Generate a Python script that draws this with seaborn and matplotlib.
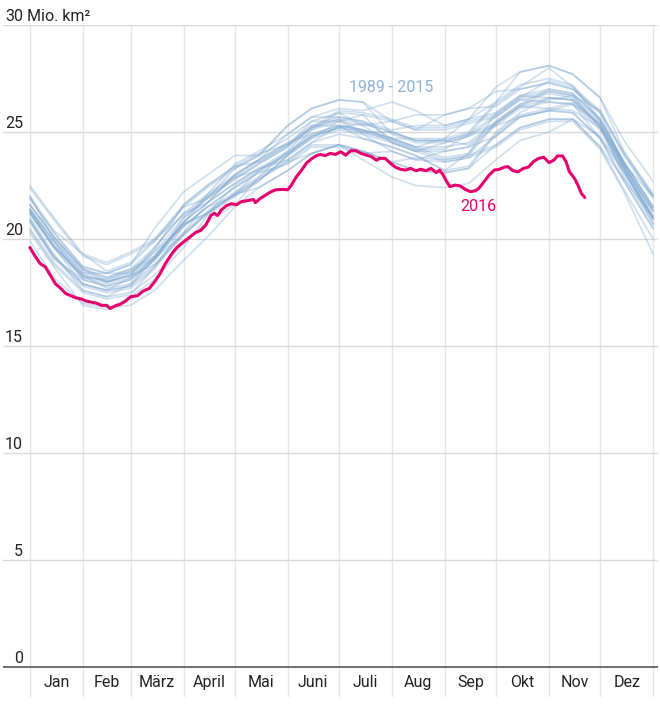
import pandas as pd
import matplotlib
matplotlib.use("Agg")
import matplotlib.pyplot as plt
import seaborn as sns

sns.set_style("white")
plt.rcParams['font.family'] = ['Roboto', 'DejaVu Sans']

# Tage im Jahr: jeweils 1. und 15. des Monats, dazu Jahresende
knot_days = [0, 14, 31, 45, 59, 73, 90, 104, 120, 134, 151, 165, 181, 195,
             212, 226, 243, 257, 273, 287, 304, 318, 334, 348, 365]

years = list(range(1989, 2016))

# Meereis-Ausdehnung (Mio. km²) 1989 - 2015
extent_past = [
    [21.2, 19.6, 18.2, 18.1, 18.5, 19.5, 21.6, 22.5, 23.4, 24.0, 24.4, 25.2, 25.6, 25.0, 24.6, 24.2, 24.2, 24.9, 25.8, 26.6, 27.4, 27.1, 25.5, 23.5, 21.0],
    [21.9, 20.3, 18.7, 18.4, 18.4, 19.4, 21.0, 21.9, 23.3, 23.9, 25.3, 26.1, 26.5, 26.4, 25.5, 25.1, 25.1, 25.4, 25.7, 26.5, 26.8, 26.6, 25.4, 23.4, 21.3],
    [21.0, 19.3, 17.6, 17.3, 17.9, 18.8, 20.3, 21.7, 22.6, 23.3, 24.1, 25.3, 25.7, 25.5, 25.1, 25.3, 25.3, 25.6, 27.1, 27.8, 28.1, 27.7, 26.6, 24.1, 22.1],
    [22.5, 21.0, 19.3, 18.5, 18.9, 20.0, 21.1, 22.0, 22.9, 23.2, 24.0, 24.8, 25.2, 25.0, 24.6, 24.2, 23.7, 23.9, 25.4, 26.2, 26.5, 26.7, 25.5, 23.5, 22.0],
    [21.3, 19.7, 18.3, 18.0, 18.3, 18.8, 20.3, 21.3, 22.2, 22.9, 24.1, 24.9, 25.3, 24.7, 24.3, 23.9, 23.2, 23.4, 25.0, 25.9, 26.6, 26.5, 25.3, 23.3, 21.1],
    [21.4, 19.9, 18.4, 18.4, 18.8, 20.5, 22.2, 23.0, 23.9, 23.9, 24.7, 25.5, 25.5, 25.3, 25.5, 25.1, 25.8, 26.1, 26.9, 27.0, 27.3, 27.0, 25.9, 23.4, 21.3],
    [20.4, 18.8, 17.5, 17.2, 17.4, 18.7, 20.2, 21.2, 22.5, 23.2, 24.0, 24.8, 25.2, 25.0, 25.0, 24.6, 24.6, 24.4, 25.4, 26.2, 26.9, 26.7, 25.2, 23.2, 21.0],
    [21.6, 20.1, 18.6, 18.2, 18.6, 19.2, 20.8, 21.7, 23.0, 23.7, 24.9, 25.7, 26.1, 26.0, 26.4, 26.0, 25.3, 25.6, 25.9, 26.7, 26.6, 26.5, 25.3, 22.9, 20.7],
    [20.8, 19.1, 17.8, 17.5, 17.7, 18.6, 20.6, 21.5, 22.4, 23.1, 23.5, 24.3, 24.3, 24.0, 24.1, 23.7, 24.1, 24.3, 25.3, 25.7, 26.0, 25.9, 24.7, 22.7, 20.5],
    [22.0, 20.4, 19.3, 18.9, 19.4, 20.0, 21.6, 22.5, 23.4, 23.6, 24.4, 25.2, 25.6, 25.4, 25.0, 24.6, 24.6, 24.9, 25.4, 26.2, 26.1, 26.0, 25.2, 23.5, 21.4],
    [21.3, 19.7, 18.3, 18.0, 18.3, 19.6, 21.2, 22.1, 23.5, 24.1, 24.9, 25.7, 25.7, 25.5, 24.7, 24.3, 24.3, 24.5, 25.5, 26.3, 27.0, 26.8, 25.6, 23.6, 21.5],
    [21.4, 19.9, 18.1, 17.8, 18.1, 19.0, 20.6, 21.5, 22.4, 23.1, 23.9, 25.1, 25.5, 25.8, 25.5, 25.8, 25.8, 26.1, 26.2, 27.0, 27.3, 27.0, 25.9, 23.9, 21.9],
    [20.9, 19.2, 17.9, 17.6, 17.8, 19.1, 20.7, 21.2, 22.1, 22.8, 23.6, 24.0, 24.4, 24.1, 23.6, 23.8, 23.7, 23.9, 24.4, 25.2, 25.6, 25.6, 24.8, 23.2, 21.0],
    [21.4, 19.9, 18.4, 18.0, 18.4, 19.4, 20.6, 21.5, 22.0, 22.7, 23.9, 24.7, 25.5, 24.9, 24.5, 24.1, 24.5, 24.8, 25.7, 26.5, 26.4, 26.3, 25.4, 23.4, 21.3],
    [21.3, 19.7, 18.3, 17.7, 17.9, 19.2, 20.8, 22.1, 23.0, 23.7, 24.5, 25.3, 25.3, 25.1, 24.7, 24.3, 23.8, 24.0, 25.9, 26.7, 27.0, 26.8, 25.6, 23.6, 21.5],
    [22.0, 20.0, 18.5, 18.1, 18.5, 19.1, 20.7, 21.2, 22.1, 23.2, 24.0, 24.8, 25.2, 25.4, 25.0, 24.6, 24.6, 24.9, 26.3, 27.1, 28.0, 27.1, 26.0, 24.0, 22.0],
    [20.8, 19.1, 18.1, 17.8, 18.1, 19.0, 21.0, 21.9, 22.8, 23.5, 24.3, 25.5, 25.9, 25.3, 24.5, 24.1, 24.1, 24.3, 24.8, 25.7, 26.0, 25.9, 24.7, 22.7, 20.5],
    [21.2, 19.6, 18.2, 17.9, 18.2, 19.1, 20.2, 21.2, 22.1, 22.8, 23.6, 24.4, 24.4, 23.7, 22.9, 22.5, 22.4, 22.6, 23.7, 24.6, 25.0, 25.6, 24.3, 22.3, 20.0],
    [21.6, 20.1, 18.6, 18.0, 18.3, 19.2, 20.8, 21.7, 23.0, 23.7, 24.5, 24.9, 25.3, 25.1, 24.7, 24.7, 24.7, 25.6, 26.4, 27.8, 28.1, 27.7, 26.6, 24.6, 22.7],
    [21.2, 19.6, 17.9, 17.6, 17.8, 18.7, 20.2, 21.2, 22.1, 22.4, 23.2, 24.0, 24.4, 24.1, 23.6, 23.2, 23.1, 23.3, 24.4, 25.2, 25.6, 25.6, 24.3, 22.8, 21.0],
    [21.9, 20.3, 18.7, 18.4, 18.8, 19.9, 21.5, 21.9, 22.8, 23.5, 24.3, 25.1, 25.9, 25.8, 24.5, 24.1, 23.6, 23.8, 24.8, 25.7, 26.0, 26.3, 24.7, 23.1, 20.9],
    [20.5, 18.9, 17.6, 17.3, 17.5, 18.3, 19.8, 20.8, 21.6, 22.9, 23.7, 24.5, 25.3, 25.1, 24.7, 24.3, 24.7, 25.0, 26.4, 27.2, 27.5, 27.2, 25.6, 23.6, 21.5],
    [20.9, 19.2, 17.9, 17.6, 18.2, 19.1, 20.7, 22.0, 22.9, 23.6, 24.4, 25.2, 26.0, 25.9, 25.6, 25.2, 25.2, 25.5, 25.8, 26.6, 26.9, 26.7, 26.0, 24.0, 22.0],
    [22.4, 20.9, 19.2, 18.8, 19.3, 19.9, 21.5, 22.4, 23.3, 23.9, 25.3, 26.1, 26.5, 26.4, 24.9, 24.5, 24.5, 24.8, 25.3, 26.1, 26.4, 26.3, 25.1, 23.1, 20.9],
    [21.6, 20.1, 18.6, 18.2, 18.6, 19.6, 21.2, 21.7, 22.6, 23.3, 23.7, 24.5, 24.9, 24.7, 24.3, 23.9, 23.2, 24.0, 25.5, 26.3, 26.6, 26.5, 25.3, 23.3, 20.7],
    [19.9, 18.2, 17.0, 16.8, 16.9, 17.6, 19.0, 20.1, 21.5, 22.4, 23.2, 24.0, 24.4, 24.1, 23.6, 23.2, 23.1, 23.3, 24.9, 25.8, 26.1, 26.4, 25.2, 23.2, 21.0],
    [20.3, 18.7, 16.9, 16.7, 17.3, 18.1, 19.6, 21.1, 22.0, 22.7, 23.9, 24.7, 25.1, 24.9, 24.1, 23.7, 23.6, 23.8, 24.3, 25.1, 25.5, 25.5, 24.2, 22.2, 19.3],
]

# 2016
days_2016 = [0, 3, 6, 9, 12, 15, 18, 21, 24, 27, 30, 33, 36, 39, 42, 45, 47, 50,
             53, 56, 59, 63, 66, 70, 73, 76, 79, 83, 86, 89, 93, 97, 100, 103,
             106, 108, 110, 112, 115, 118, 121, 124, 128, 131, 132, 135, 138,
             141, 144, 148, 151, 153, 156, 159, 162, 165, 168, 170, 173, 176,
             179, 182, 185, 188, 191, 194, 197, 200, 203, 205, 208, 211, 214,
             217, 220, 223, 226, 229, 232, 235, 238, 240, 242, 244, 246, 249,
             252, 255, 258, 261, 263, 266, 269, 272, 275, 278, 280, 283, 286,
             289, 292, 295, 298, 301, 304, 307, 309, 312, 314, 316, 319, 321,
             323, 325]
extent_2016 = [19.6, 19.2, 18.85, 18.7, 18.3, 17.9, 17.7, 17.45, 17.35, 17.25,
               17.2, 17.1, 17.05, 17.0, 16.9, 16.9, 16.75, 16.88, 16.95, 17.1,
               17.3, 17.35, 17.55, 17.7, 18.0, 18.35, 18.8, 19.3, 19.6, 19.8,
               20.05, 20.3, 20.4, 20.65, 21.1, 21.2, 21.1, 21.35, 21.55, 21.65,
               21.6, 21.75, 21.8, 21.85, 21.7, 21.9, 22.05, 22.2, 22.3, 22.32,
               22.3, 22.5, 22.9, 23.2, 23.55, 23.75, 23.9, 23.95, 23.9, 24.0,
               23.95, 24.08, 23.92, 24.13, 24.12, 24.0, 23.92, 23.85, 23.68,
               23.77, 23.77, 23.55, 23.36, 23.26, 23.22, 23.3, 23.19, 23.26,
               23.19, 23.3, 23.1, 23.22, 23.0, 22.7, 22.45, 22.52, 22.48, 22.32,
               22.21, 22.26, 22.37, 22.68, 22.99, 23.22, 23.26, 23.36, 23.38,
               23.19, 23.14, 23.3, 23.36, 23.62, 23.77, 23.82, 23.57, 23.69,
               23.88, 23.88, 23.62, 23.14, 22.83, 22.52, 22.13, 21.94]

month_starts = [0, 31, 59, 90, 120, 151, 181, 212, 243, 273, 304, 334, 365]
month_labels = ["Jan", "Feb", "März", "April", "Mai", "Juni", "Juli", "Aug",
                "Sep", "Okt", "Nov", "Dez"]
y_ticks = [0, 5, 10, 15, 20, 25, 30]

blue = '#7ea8d0'
magenta = '#e4006d'
ymin = -1.40

rows = []
for year, vals in zip(years, extent_past):
    for d, v in zip(knot_days, vals):
        rows.append((year, d, v))
past = pd.DataFrame(rows, columns=['year', 'day', 'extent'])
now = pd.DataFrame({'day': days_2016, 'extent': extent_2016})

fig = plt.figure(figsize=(6.6, 7.06), dpi=100)
ax = fig.add_axes([3 / 660, 1 - 697 / 706, 655 / 660, 672 / 706])

# Gitter
ax.vlines(month_starts, ymin, 30, color='#e6e6e6', lw=1, zorder=0)
for v in y_ticks[1:]:
    ax.axhline(v, color='#d9d9d9', lw=1, zorder=0)
ax.axhline(0, color='#555555', lw=1.2, zorder=4)

sns.lineplot(data=past, x='day', y='extent', units='year', estimator=None,
             color=blue, alpha=0.36, lw=1.25, sort=False, legend=False, ax=ax)
sns.lineplot(data=now, x='day', y='extent', color=magenta, lw=2.2,
             sort=False, legend=False, ax=ax, zorder=5)

ax.set_xlim(-15.77, 367.9)
ax.set_ylim(ymin, 30)
ax.set_xlabel('')
ax.set_ylabel('')
ax.set_xticks([])
ax.set_yticks([])
for s in ax.spines.values():
    s.set_visible(False)

fs = 11.5
for v in y_ticks:
    ax.text(-4.1, v + 0.18, str(v), ha='right', va='baseline', fontsize=fs,
            color='#222222')
ax.text(-1.75, 30.18, 'Mio. km²', ha='left', va='baseline', fontsize=fs,
        color='#222222')

for i, lab in enumerate(month_labels):
    mid = (month_starts[i] + month_starts[i + 1]) / 2
    ax.text(mid, -0.72, lab, ha='center', va='center', fontsize=fs,
            color='#222222')

ax.text(211.4, 27.1, '1989 - 2015', ha='center', va='center', fontsize=fs,
        color='#8db3d8')
ax.text(262.8, 21.54, '2016', ha='center', va='center', fontsize=fs,
        color=magenta)

fig.savefig('out.png', dpi=100)
